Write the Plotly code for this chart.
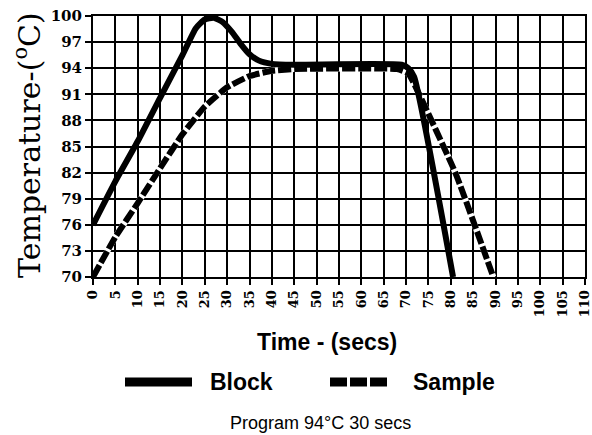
import plotly.graph_objects as go

# ---- data ----
block_time = [0, 5, 10, 15, 20, 23, 25, 27, 29, 31, 33, 35, 37, 40, 45, 69, 70.5, 71.8, 80.5]
block_temp = [76, 81, 85.6, 90.6, 95.5, 98.6, 99.6, 99.8, 99.3, 98.2, 96.8, 95.6, 94.9, 94.5, 94.4, 94.4, 94.0, 93.0, 70]

sample_time = [0, 5, 10, 15, 20, 25, 30, 35, 40, 45, 68, 70.5, 72, 81, 89.5]
sample_temp = [70, 74.6, 78.5, 82.5, 86.4, 89.6, 91.8, 93.1, 93.7, 93.9, 93.9, 93.4, 92, 82, 70]

x_ticks = list(range(0, 111, 5))
y_ticks = list(range(70, 101, 3))

W, H = 592, 435
L, R, T, B = 93, 7, 16, 158
pw, ph = W - L - R, H - T - B


def px(xp):
    return (xp - L) / pw


def py(yp):
    return (H - B - yp) / ph


fig = go.Figure()
# white underlay so the dash gaps show white
fig.add_trace(go.Scatter(x=sample_time, y=sample_temp, mode="lines", showlegend=False,
                         hoverinfo="skip",
                         line=dict(color="white", width=6, shape="spline", smoothing=0.4)))
fig.add_trace(go.Scatter(x=sample_time, y=sample_temp, mode="lines", name="Sample", showlegend=False,
                         line=dict(color="black", width=6, dash="13px,3px", shape="spline", smoothing=0.4)))
fig.add_trace(go.Scatter(x=block_time, y=block_temp, mode="lines", name="Block", showlegend=False,
                         line=dict(color="black", width=6, shape="spline", smoothing=0.5)))

axis_common = dict(showgrid=True, gridcolor="black", gridwidth=2, showline=True, linecolor="black",
                   linewidth=2, mirror=True, ticks="outside", ticklen=6, tickwidth=2, tickcolor="black",
                   zeroline=False, automargin=False, ticklabeloverflow="allow")

fig.update_xaxes(range=[0, 110], tickvals=x_ticks, ticktext=[str(v) for v in x_ticks], tickangle=-90,
                 tickfont=dict(family="DejaVu Serif", size=13, color="black", weight="bold"),
                 **axis_common)
fig.update_yaxes(range=[70, 100], tickvals=y_ticks, ticktext=[str(v) for v in y_ticks],
                 tickfont=dict(family="DejaVu Serif", size=15, color="black", weight="bold"),
                 **axis_common)

annotations = [
    dict(text="Temperature-(<sup>o</sup>C)", x=px(27), y=py(145), textangle=-90, xanchor="center",
         font=dict(family="DejaVu Serif", size=30, color="black")),
    dict(text="<b>Time - (secs)</b>", x=px(327), y=py(342), xanchor="center",
         font=dict(family="Liberation Sans", size=23, color="black")),
    dict(text="<b>Block</b>", x=px(208), y=py(382), xanchor="left",
         font=dict(family="Liberation Sans", size=23, color="black")),
    dict(text="<b>Sample</b>", x=px(411), y=py(382), xanchor="left",
         font=dict(family="Liberation Sans", size=23, color="black")),
    dict(text="Program 94°C 30 secs", x=px(320), y=py(423), xanchor="center",
         font=dict(family="Liberation Sans", size=18, color="black")),
]
for a in annotations:
    a.update(xref="paper", yref="paper", showarrow=False, yanchor="middle")

shapes = [
    dict(type="line", xref="paper", yref="paper", x0=px(125), x1=px(192), y0=py(382), y1=py(382),
         line=dict(color="black", width=9)),
    dict(type="line", xref="paper", yref="paper", x0=px(330), x1=px(390), y0=py(382), y1=py(382),
         line=dict(color="black", width=9, dash="17px,3px")),
]

fig.update_layout(width=W, height=H, margin=dict(l=L, r=R, t=T, b=B),
                  paper_bgcolor="white", plot_bgcolor="white",
                  annotations=annotations, shapes=shapes, showlegend=False)

fig.write_html("out.html", config={"displayModeBar": False},
               post_script="document.body.style.margin='0';")
